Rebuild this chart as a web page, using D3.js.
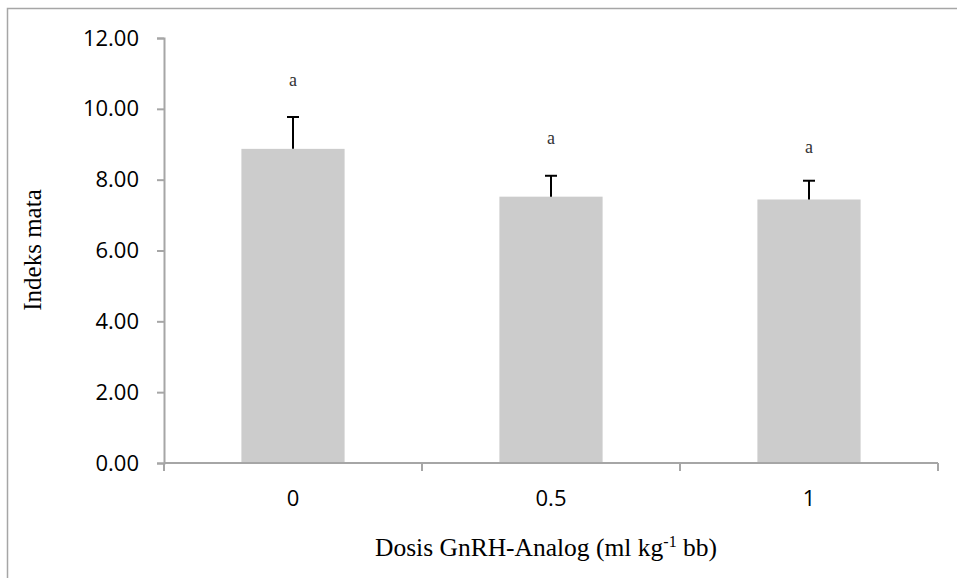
<!DOCTYPE html>
<html>
<head>
<meta charset="utf-8">
<script src="https://cdn.jsdelivr.net/npm/d3@7"></script>
<style>
html,body{margin:0;padding:0;background:#fff;}
svg{display:block;}
</style>
</head>
<body>
<svg id="chart" width="957" height="578"></svg>
<script>
const categories = ["0", "0.5", "1"];
const means = [8.87, 7.52, 7.44];
const errors = [0.90, 0.59, 0.53];
const letters = ["a", "a", "a"];
const letterValues = [10.65, 9.0, 8.75];
const yTicks = [0, 2, 4, 6, 8, 10, 12];

const svg = d3.select("#chart");
const W = 957, H = 578;
const m = {left: 164, top: 38, right: 19, bottom: 115};
const x = d3.scaleBand().domain(categories).range([m.left, W - m.right]).paddingInner(0.6).paddingOuter(0.3);
const xb = d3.scaleBand().domain(categories).range([m.left, W - m.right]);
const y = d3.scaleLinear().domain([0, 12]).range([H - m.bottom, m.top]);

// outer frame
svg.append("rect").attr("x", 7.5).attr("y", 8.5).attr("width", 1000).attr("height", 1000)
  .attr("fill", "none").attr("stroke", "#a6a6a6").attr("stroke-width", 1.5);

// bars
svg.selectAll("rect.bar").data(categories).join("rect").attr("class", "bar")
  .attr("x", d => x(d)).attr("width", x.bandwidth())
  .attr("y", (d, i) => y(means[i])).attr("height", (d, i) => y(0) - y(means[i]))
  .attr("fill", "#cccccc");

// error bars
const eb = svg.append("g").attr("stroke", "#000").attr("stroke-width", 2);
categories.forEach((c, i) => {
  const cx = x(c) + x.bandwidth() / 2;
  eb.append("line").attr("x1", cx).attr("x2", cx).attr("y1", y(means[i])).attr("y2", y(means[i] + errors[i]));
  eb.append("line").attr("x1", cx - 6).attr("x2", cx + 6).attr("y1", y(means[i] + errors[i])).attr("y2", y(means[i] + errors[i]));
});

// letters
svg.selectAll("text.letter").data(categories).join("text").attr("class", "letter")
  .attr("x", d => x(d) + x.bandwidth() / 2)
  .attr("y", (d, i) => y(letterValues[i]))
  .attr("text-anchor", "middle")
  .attr("font-family", "Liberation Serif, Times New Roman, serif")
  .attr("font-size", 18).attr("fill", "#333")
  .text((d, i) => letters[i]);

// y axis
const yAxis = svg.append("g").attr("transform", `translate(${m.left},0)`)
  .call(d3.axisLeft(y).tickValues(yTicks).tickSize(7).tickPadding(18).tickFormat(d3.format(".2f")));
yAxis.select(".domain").attr("stroke", "#a6a6a6").attr("stroke-width", 2);
yAxis.selectAll(".tick line").attr("stroke", "#a6a6a6").attr("stroke-width", 2);
yAxis.selectAll("text").attr("font-family", "Open Sans, sans-serif").attr("font-size", 22).attr("fill", "#000");

// x axis
const xg = svg.append("g").attr("transform", `translate(0,${y(0)})`);
xg.append("line").attr("x1", m.left).attr("x2", W - m.right).attr("stroke", "#a6a6a6").attr("stroke-width", 2);
const bounds = categories.map(c => xb(c)).concat([xb(categories[categories.length - 1]) + xb.bandwidth()]);
xg.selectAll("line.tk").data(bounds).join("line").attr("class", "tk")
  .attr("x1", d => d).attr("x2", d => d).attr("y1", 0).attr("y2", 8)
  .attr("stroke", "#a6a6a6").attr("stroke-width", 2);
xg.selectAll("text.xl").data(categories).join("text").attr("class", "xl")
  .attr("x", d => xb(d) + xb.bandwidth() / 2).attr("y", 43)
  .attr("text-anchor", "middle")
  .attr("font-family", "Open Sans, sans-serif").attr("font-size", 22).attr("fill", "#000")
  .text(d => d);

// axis titles
const xt = svg.append("text").attr("x", 546).attr("y", 556).attr("text-anchor", "middle")
  .attr("font-family", "Liberation Serif, Times New Roman, serif").attr("font-size", 25.5).attr("fill", "#000");
xt.append("tspan").text("Dosis GnRH-Analog (ml kg");
xt.append("tspan").attr("dy", -9).attr("font-size", 16).text("-1");
xt.append("tspan").attr("dy", 9).text(" bb)");

svg.append("text").attr("transform", "translate(41,250) rotate(-90)").attr("text-anchor", "middle")
  .attr("font-family", "Liberation Serif, Times New Roman, serif").attr("font-size", 25).attr("fill", "#000")
  .text("Indeks mata");
</script>
</body>
</html>
